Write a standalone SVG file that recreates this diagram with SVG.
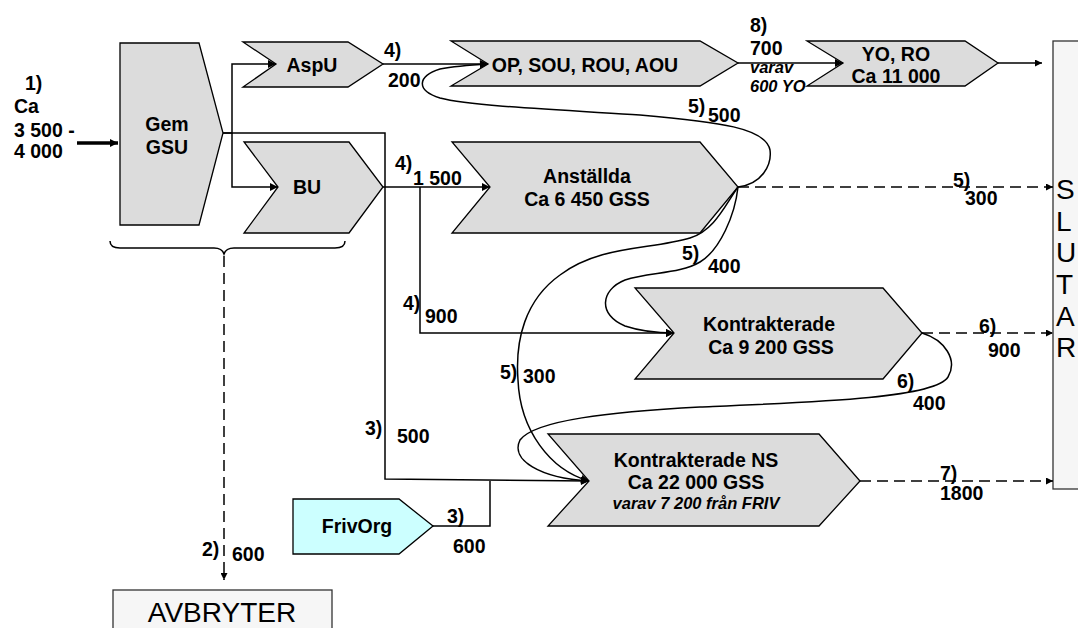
<svg xmlns="http://www.w3.org/2000/svg" width="1078" height="628" viewBox="0 0 1078 628">
<defs>
<marker id="ah" viewBox="0 0 10 10" refX="10" refY="5" markerWidth="10" markerHeight="8" markerUnits="userSpaceOnUse" orient="auto">
<path d="M0,0 L10,5 L0,10 z" fill="#000"/>
</marker>
<marker id="ahs" viewBox="0 0 10 10" refX="10" refY="5" markerWidth="8" markerHeight="7" markerUnits="userSpaceOnUse" orient="auto">
<path d="M0,0 L10,5 L0,10 z" fill="#000"/>
</marker>
<style>
.n{fill:#dcdcdc;stroke:#000;stroke-width:1.3}
.fo{fill:#ccffff;stroke:#000;stroke-width:1.3}
.box{fill:#f6f6f6;stroke:#333;stroke-width:1.3}
.t{font-family:"Liberation Sans",Arial,sans-serif;font-weight:bold;font-size:19.5px;fill:#000}
.c{text-anchor:middle}
.i{font-style:italic;font-size:16.5px}
.big{font-family:"Liberation Sans",Arial,sans-serif;font-size:28px;fill:#000}
.l{fill:none;stroke:#000;stroke-width:1.5}
.d{fill:none;stroke:#000;stroke-width:1.5;stroke-dasharray:11 6}
</style>
</defs>

<g id="gemgsu">
<polygon class="n" points="120,43 199,43 223,133 199,225 120,225"/>
<text class="t c" x="167" y="131">Gem</text>
<text class="t c" x="167" y="154">GSU</text>
</g>
<g id="aspu">
<polygon class="n" points="243,42 348,42 383,64 348,87 243,87 276,64"/>
<text class="t c" x="312" y="72">AspU</text>
</g>
<g id="bu">
<polygon class="n" points="244,142 349,142 383,187 349,233 244,233 278,187"/>
<text class="t c" x="307" y="194">BU</text>
</g>
<g id="op">
<polygon class="n" points="451,41 700,41 738,63 700,86 451,86 488,64"/>
<text class="t c" x="585" y="72">OP, SOU, ROU, AOU</text>
</g>
<g id="yoro">
<polygon class="n" points="807,41 965,41 998,63 965,86 807,86 843,63"/>
<text class="t c" x="896" y="61">YO, RO</text>
<text class="t c" x="896" y="83">Ca 11 000</text>
</g>
<g id="anstallda">
<polygon class="n" points="452,142 700,142 738,187 700,233 452,233 490,187"/>
<text class="t c" x="587" y="183">Anställda</text>
<text class="t c" x="587" y="206">Ca 6 450 GSS</text>
</g>
<g id="kontrakterade">
<polygon class="n" points="635,288 883,288 922,333 883,379 635,379 674,333"/>
<text class="t c" x="769" y="331">Kontrakterade</text>
<text class="t c" x="771" y="354">Ca 9 200 GSS</text>
</g>
<g id="kontrakteradens">
<polygon class="n" points="548,434 819,434 860,481 819,526 548,526 589,481"/>
<text class="t c" x="696" y="467">Kontrakterade NS</text>
<text class="t c" x="696" y="489">Ca 22 000 GSS</text>
<text class="t c i" x="696" y="509">varav 7 200 från FRIV</text>
</g>
<g id="frivorg">
<polygon class="fo" points="293,499 399,499 433,526 399,554 293,554"/>
<text class="t c" x="357" y="533">FrivOrg</text>
</g>
<g id="avbryter">
<rect class="box" x="113" y="590" width="219" height="45"/>
<text class="big c" x="222" y="622">AVBRYTER</text>
</g>
<g id="slutar">
<rect class="box" x="1053" y="41" width="40" height="448"/>
<text class="big" x="1056" y="199" font-size="29">S</text>
<text class="big" x="1056" y="231" font-size="29">L</text>
<text class="big" x="1056" y="262" font-size="29">U</text>
<text class="big" x="1056" y="294" font-size="29">T</text>
<text class="big" x="1056" y="326" font-size="29">A</text>
<text class="big" x="1056" y="357" font-size="29">R</text>
</g>

<g id="connectors">
<line x1="77" y1="143" x2="118" y2="143" stroke="#000" stroke-width="3.5" marker-end="url(#ah)"/>
<polyline class="l" points="223,133 232,133 232,64 276,64" marker-end="url(#ah)"/>
<polyline class="l" points="232,133 232,187 278,187" marker-end="url(#ah)"/>
<polyline class="l" points="223,133 385,133 385,479 589,481" marker-end="url(#ah)"/>
<line class="l" x1="383" y1="64" x2="488" y2="64" marker-end="url(#ah)"/>
<line class="l" x1="738" y1="63" x2="843" y2="63" marker-end="url(#ah)"/>
<line class="l" x1="998" y1="63" x2="1042" y2="63" marker-end="url(#ahs)"/>
<line class="l" x1="383" y1="187" x2="490" y2="187" marker-end="url(#ah)"/>
<polyline class="l" points="420,187 420,333 674,333" marker-end="url(#ah)"/>
<polyline class="l" points="433,526 490,526 490,481"/>
<line class="d" x1="738" y1="187" x2="1053" y2="187" marker-end="url(#ahs)"/>
<line class="d" x1="922" y1="333" x2="1053" y2="333" marker-end="url(#ahs)"/>
<line class="d" x1="860" y1="481" x2="1053" y2="481" marker-end="url(#ahs)"/>
<path class="l" stroke-width="1.2" d="M110,241 Q110,248 120,248 L214,248 Q222,248 224,254 Q226,248 234,248 L335,248 Q345,248 345,241"/>
<line class="d" x1="224" y1="256" x2="224" y2="580" marker-end="url(#ahs)"/>
<path class="l" d="M738,187 C762,184 772,165 770,150 C766,128 720,122 640,115 C560,110 470,106 440,98 C415,90 418,76 440,69 C455,66 470,65 488,64" marker-end="url(#ah)"/>
<path class="l" d="M738,187 C735,215 720,250 700,262 C680,274 650,272 625,280 C600,290 598,315 625,326 C640,331 655,333 674,333" marker-end="url(#ah)"/>
<path class="l" d="M738,187 C725,205 715,230 690,238 C650,250 600,245 560,275 C525,300 515,340 518,380 C520,430 550,470 589,481" marker-end="url(#ah)"/>
<path class="l" d="M922,333 C945,340 958,360 948,377 C935,398 820,402 700,407 C610,412 535,420 520,440 C510,460 540,478 589,481" marker-end="url(#ah)"/>
</g>

<g id="labels">
<text class="t" x="25" y="90">1)</text>
<text class="t" x="14" y="113">Ca</text>
<text class="t" x="14" y="137">3 500 -</text>
<text class="t" x="14" y="158">4 000</text>
<text class="t" x="384" y="57">4)</text>
<text class="t" x="388" y="87">200</text>
<text class="t" x="750" y="32">8)</text>
<text class="t" x="750" y="55">700</text>
<text class="t i" x="750" y="73">varav</text>
<text class="t i" x="750" y="92">600 YO</text>
<text class="t" x="688" y="113">5)</text>
<text class="t" x="708" y="122">500</text>
<text class="t" x="395" y="170">4)</text>
<text class="t" x="413" y="185">1 500</text>
<text class="t" x="953" y="187">5)</text>
<text class="t" x="965" y="205">300</text>
<text class="t" x="682" y="260">5)</text>
<text class="t" x="708" y="273">400</text>
<text class="t" x="403" y="310">4)</text>
<text class="t" x="425" y="323">900</text>
<text class="t" x="979" y="333">6)</text>
<text class="t" x="988" y="357">900</text>
<text class="t" x="500" y="379">5)</text>
<text class="t" x="523" y="383">300</text>
<text class="t" x="897" y="388">6)</text>
<text class="t" x="913" y="410">400</text>
<text class="t" x="365" y="435">3)</text>
<text class="t" x="397" y="443">500</text>
<text class="t" x="940" y="480">7)</text>
<text class="t" x="940" y="500">1800</text>
<text class="t" x="447" y="523">3)</text>
<text class="t" x="453" y="553">600</text>
<text class="t" x="202" y="556">2)</text>
<text class="t" x="232" y="561">600</text>
</g>
</svg>
